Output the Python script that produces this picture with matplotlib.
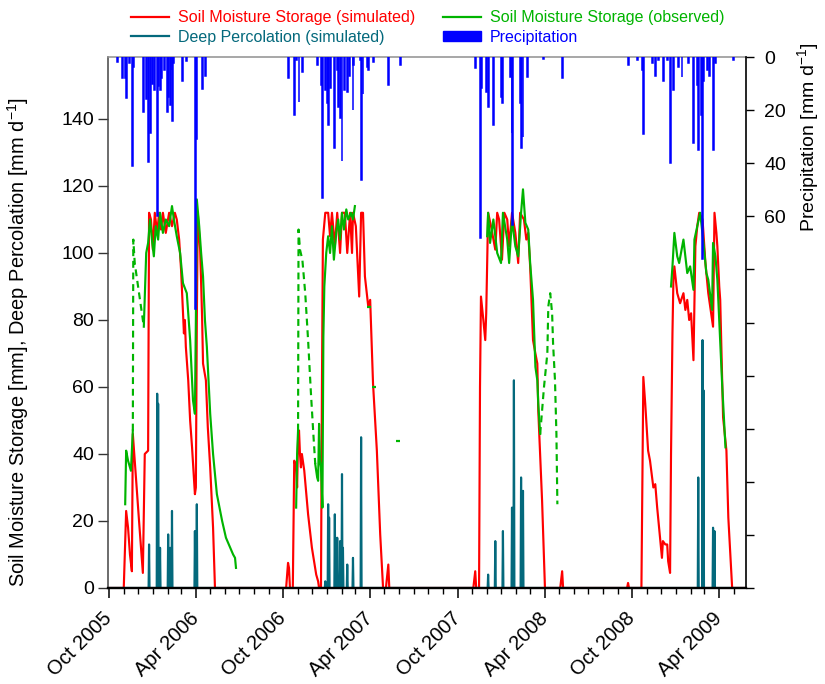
import numpy as np
import matplotlib
matplotlib.use("Agg")
import matplotlib.pyplot as plt
import matplotlib.dates as mdates
from matplotlib.ticker import FixedLocator, FuncFormatter
from matplotlib.lines import Line2D
from matplotlib.patches import Patch

plt.rcParams['font.family'] = ['Liberation Sans', 'DejaVu Sans']

# ---------------- data (days counted from 2005-10-01) ----------------
START = np.datetime64('2005-10-01')
N_DAYS = 1335
nan = np.nan

# Soil moisture storage, simulated
sim_days = [0, 17, 31, 36, 40, 44, 48, 50, 54, 63, 71, 75, 82, 84, 88, 92, 96, 101, 105, 109, 113, 119, 126,
            132, 138, 142, 147, 151, 155, 157, 159, 161, 166, 170, 174, 178, 180, 182, 184, 186, 191, 195, 197,
            203, 207, 212, 218, 222,
            371, 375, 377, 379, 385, 388, 392, 394, 396, 398, 400, 402, 404, 409, 417, 425, 434, 438, 440, 444,
            446, 448, 453, 459, 463, 467, 473, 478, 484, 488, 494, 499, 505, 509, 511, 517, 524, 528, 532, 536,
            543, 547, 553, 561, 568, 574, 580, 585, 587,
            763, 767, 769, 775, 777, 779, 784, 788, 790, 792, 794, 800, 809, 813, 817, 823, 828, 834, 838, 844,
            851, 857, 861, 869, 874, 878, 882, 888, 893, 897, 899, 907, 913, 945, 949, 951, 1085, 1087, 1089,
            1115, 1119, 1123, 1129, 1133, 1140, 1144, 1148, 1154, 1158, 1160, 1165, 1169, 1171, 1175, 1177, 1180,
            1182, 1184, 1190, 1196, 1203, 1207, 1211, 1215, 1219, 1224, 1228, 1232, 1236, 1243, 1249, 1255, 1259,
            1265, 1268, 1272, 1274, 1278, 1280, 1286, 1293, 1297, 1305, 1334]
sim_vals = [0, 0, 0, 23, 18, 10, 5, 46, 38, 20, 4.5, 40, 41, 112, 110, 101, 112, 106, 112, 107, 112, 106, 112,
            108, 112, 110, 104, 95, 82, 76, 80, 72, 62, 50, 42, 33, 28, 30, 80, 112, 101, 81, 67,
            62, 48, 36, 18, 0,
            0, 7.5, 6, 0, 0, 38, 36, 30, 44, 47, 40, 36, 40, 35, 22, 12, 4, 2, 0, 0,
            60, 104, 112, 112, 105, 112, 102, 112, 100, 112, 112, 100, 112, 100, 112, 108, 87, 112, 112, 93,
            84, 86, 61, 41, 16, 0, 0, 7, 0,
            0, 5, 0, 0, 60, 87, 80, 74, 82, 97, 112, 108, 101, 112, 110, 98, 112, 110, 102, 112,
            106, 97, 112, 110, 104, 106, 96, 74, 70, 67, 53, 26, 0, 0, 5, 0, 0, 1.5, 0,
            0, 63, 55, 41, 38, 30, 31, 24, 15, 9, 14, 13, 13, 8, 4.5, 40, 76,
            92, 96, 88, 85, 88, 83, 86, 80, 82, 68, 102, 108, 112, 110, 97, 88, 84,
            78, 112, 106, 102, 90, 86, 51, 41, 21, 0, 0]

# Soil moisture storage, observed (NaN = no observation)
obs_days = [34, 36, 40, 46, 50, 60,
            73, 78, 82, 86, 90, 94, 98, 103, 107, 113, 119, 126, 132, 136, 142, 149, 155, 163, 170, 176, 180,
            182, 184, 189, 193, 197, 201, 205, 212, 218, 226, 237, 245, 254, 260, 264, 266, 300,
            392, 394, 396, 410,
            432, 436, 438, 440, 442, 444, 447, 449, 451, 455, 459, 463, 467, 471, 476, 480, 484, 488, 492, 497,
            501, 507, 511, 515, 700,
            792, 794, 798, 805, 813, 821, 825, 834, 838, 844, 851, 857, 863, 867, 872, 878, 882, 888, 893, 897,
            899, 903, 1000,
            1177, 1180, 1184, 1190, 1194, 1203, 1207, 1211, 1217, 1224, 1226, 1232, 1238, 1245, 1251, 1255, 1263,
            1265, 1270, 1274, 1276, 1284, 1291]
obs_vals = [25, 41, 38, 35, 47, nan,
            78, 100, 103, 110, 104, 99, 108, 104, 112, 106, 110, 108, 114, 110, 105, 100, 91, 88, 74, 56, 52,
            80, 116, 108, 100, 93, 80, 72, 52, 40, 28, 20, 15, 12, 10, 9, 6, nan,
            24, 40, 47, nan,
            37, 33, 32, 49, 38, 36, 24, 75, 90, 100, 105, 100, 108, 98, 106, 110, 104, 112, 107, 113,
            110, 112, 110, 114, nan,
            105, 112, 103, 110, 100, 97, 112, 104, 97, 110, 102, 99, 112, 119, 109, 107, 97, 86, 66, 62,
            55, 46, nan,
            90, 96, 106, 99, 97, 104, 99, 94, 96, 89, 104, 108, 112, 103, 94, 92, 83,
            103, 99, 92, 86, 61, 42]

# observation gaps bridged (dashed)
gap_days = [50, 51, 54, 59, 65, 73, 200,
            396, 397, 400, 405, 411, 417, 423, 428, 432, 600,
            903, 907, 911, 918, 920, 924, 928, 930, 934, 937, 939]
gap_vals = [47, 104, 97, 92, 86, 78, nan,
            47, 107, 101, 98, 88, 74, 58, 46, 37, nan,
            46, 53, 60, 70, 84, 88, 82, 73, 62, 46, 25]

# single isolated observations
single_days = [545, 555, 605]
single_vals = [84, 60, 44]

# Deep percolation, simulated (non-zero days)
perc_days = [84, 101, 103, 107, 124, 128, 132, 180, 184,
             453, 459, 461, 473, 478, 484, 488, 490, 499, 511, 528,
             794, 809, 825, 844, 848, 863, 867,
             1234, 1243, 1245, 1265, 1268]
perc_vals = [13, 58, 55, 12, 16, 12, 23, 17, 25,
             2, 25, 21, 22, 15, 14, 34, 12, 7, 9, 45,
             4, 14, 17, 24, 62, 33, 29,
             33, 74, 59, 18, 17]

# Precipitation
prec_days = [17, 29, 34, 36, 44, 50, 52, 73, 78, 82, 86, 92, 96, 101, 103, 107, 111, 117, 122, 124,
             128, 132, 134, 136, 155, 163, 182, 184, 195, 203,
             375, 388, 392, 398, 406, 436, 446, 448, 453, 457, 459, 463, 473, 478, 480, 484, 488, 494, 499, 503,
             511, 513, 526, 528, 532, 541, 543, 553, 585, 610,
             767, 779, 781, 790, 794, 805, 823, 825, 840, 844, 846, 861, 863, 867, 876, 909, 949,
             1087, 1106, 1117, 1119,
             1138, 1144, 1150, 1161, 1169, 1175, 1182, 1192, 1200, 1213, 1224, 1232, 1234, 1240, 1243, 1245,
             1253, 1257, 1265, 1270, 1307]
prec_vals = [1.8, 8, 8, 15.5, 2.4, 41, 3.6, 20.6, 16, 39.5, 28.8, 10, 12.5, 60, 11, 12.5, 8, 5, 20.6, 15,
             18, 5, 24, 2.4, 9, 1.5, 95, 31, 12, 7,
             8, 22, 1, 17, 5.5, 3, 10.5, 53, 12.5, 17.5, 25.7, 11.7, 34.4, 5, 18.7, 23, 39, 12.5, 13, 7,
             20, 3, 1, 46.4, 14, 3.6, 5, 1.8, 10.5, 3,
             4, 68, 11.7, 13, 18.7, 25.7, 15, 17.5, 7.5, 28.8, 63.4, 17.5, 34.4, 30, 7.5, 0.8, 8,
             3, 1, 5, 29,
             2.4, 7, 1, 9, 1, 40, 12.5, 3.6, 7.5, 2.4, 32.5, 10.5, 35, 22, 76, 9,
             5, 7, 35, 2.4, 1]

x_tick_labels = ['Oct 2005', 'Apr 2006', 'Oct 2006', 'Apr 2007', 'Oct 2007', 'Apr 2008', 'Oct 2008', 'Apr 2009']
left_ticks = [0, 20, 40, 60, 80, 100, 120, 140]
right_ticks = [0, 20, 40, 60, 80, 100, 120, 140, 160, 180, 200]
right_labelled = [0, 20, 40, 60]

# ---------------- helpers ----------------
def to_dates(days):
    return START + np.array(days, dtype='int64').astype('timedelta64[D]')

RED = '#ff0000'
GREEN = '#00b400'
TEAL = '#04697c'
BLUE = '#0000ff'

perc_daily = np.zeros(N_DAYS)
perc_daily[np.array(perc_days)] = perc_vals
all_days = np.arange(N_DAYS)

# ---------------- figure ----------------
fig = plt.figure(figsize=(8.25, 6.84), dpi=100)
ax = fig.add_axes([108/825, 96/684, 638/825, 531/684])

LW = 1.55
ax.plot(to_dates(sim_days), sim_vals, color=RED, lw=LW, zorder=2.0)
ax.plot(to_dates(obs_days), obs_vals, color=GREEN, lw=LW, zorder=2.1)
ax.plot(to_dates(gap_days), gap_vals, color=GREEN, lw=LW, ls=(0, (3.2, 2.2)), zorder=2.1)
ax.plot(to_dates(single_days), single_vals, ls='none', marker='_', ms=3, mew=1.6, color=GREEN, zorder=2.1)
ax.plot(to_dates(all_days), perc_daily, color=TEAL, lw=LW, zorder=2.2)

ax.set_xlim(np.datetime64('2005-09-29'), START + np.timedelta64(N_DAYS - 1, 'D'))
ax.set_ylim(0, 158.5)
ax.yaxis.set_major_locator(FixedLocator(left_ticks))

ax.xaxis.set_major_locator(mdates.MonthLocator(bymonth=[4, 10]))
ax.xaxis.set_minor_locator(mdates.MonthLocator())
ax.set_xticks(ax.get_xticks())
ax.set_xticklabels(x_tick_labels, rotation=45, ha='right', va='center', rotation_mode='anchor')

ax.tick_params(axis='x', which='major', direction='out', length=7, width=1.1, labelsize=14.5, pad=13)
ax.tick_params(axis='x', which='minor', direction='out', length=4, width=1.0)
ax.tick_params(axis='y', which='major', direction='out', length=7, width=1.0, labelsize=14, pad=3,
               color='#333333')

ax.set_ylabel('Soil Moisture Storage [mm], Deep Percolation [mm d$\\mathregular{^{-1}}$]', fontsize=14.4)
ax.yaxis.set_label_coords(-0.121, 0.463)

ax.spines['bottom'].set_color('black')
ax.spines['bottom'].set_linewidth(1.7)
ax.spines['bottom'].set_zorder(3)
ax.spines['left'].set_color('#444444')
ax.spines['left'].set_linewidth(1.1)
ax.spines['top'].set_color('#909090')
ax.spines['top'].set_linewidth(1.1)
ax.spines['right'].set_visible(False)

# precipitation on inverted secondary axis
ax2 = ax.twinx()
ax2.bar(to_dates(prec_days), prec_vals, width=2, color=BLUE, edgecolor=BLUE, linewidth=1.1, zorder=5)
ax2.set_ylim(200, 0)
ax2.yaxis.set_major_locator(FixedLocator(right_ticks))
ax2.yaxis.set_major_formatter(FuncFormatter(lambda v, p: f'{int(v)}' if int(round(v)) in right_labelled else ''))
ax2.tick_params(axis='y', direction='out', length=6, width=1.0, labelsize=14, pad=7)
ax2.set_ylabel('Precipitation [mm d$\\mathregular{^{-1}}$]', fontsize=14)
ax2.yaxis.set_label_coords(1.077, 0.849)
for s in ['top', 'left', 'bottom']:
    ax2.spines[s].set_visible(False)
ax2.spines['right'].set_color('black')
ax2.spines['right'].set_linewidth(1.2)

# legend
handles = [Line2D([], [], color=RED, lw=1.6),
           Line2D([], [], color=TEAL, lw=1.6),
           Line2D([], [], color=GREEN, lw=1.6),
           Patch(facecolor=BLUE, edgecolor=BLUE)]
labels = ['Soil Moisture Storage (simulated)', 'Deep Percolation (simulated)',
          'Soil Moisture Storage (observed)', 'Precipitation']
leg = fig.legend(handles, labels, ncol=2, loc='upper left', bbox_to_anchor=(131/825, 1 - 10/684),
                 frameon=False, fontsize=11.5, borderpad=0, borderaxespad=0, handlelength=2.4,
                 handletextpad=0.55, columnspacing=1.7, labelspacing=0.3, handleheight=0.6)
for txt, c in zip(leg.get_texts(), [RED, TEAL, GREEN, BLUE]):
    txt.set_color(c)

fig.savefig('out.png', dpi=100)
